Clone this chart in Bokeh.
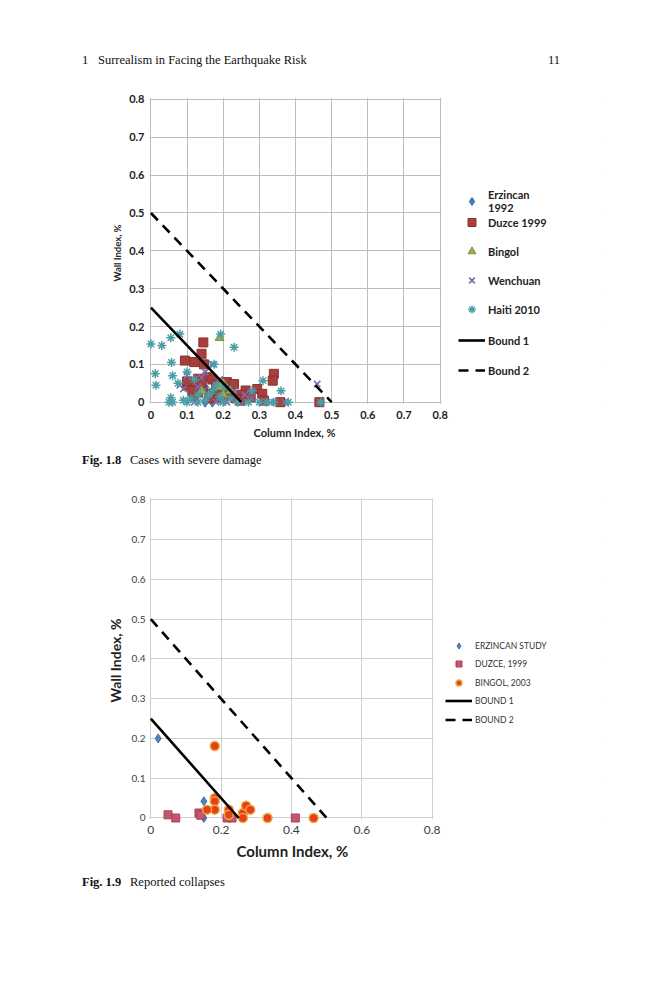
from bokeh.plotting import figure
from bokeh.models import Legend, LegendItem, FixedTicker, Range1d, Div, BoxAnnotation, Title
from bokeh.layouts import column
from bokeh.embed import file_html
from bokeh.resources import INLINE

# ---------------- Fig. 1.8 data (Cases with severe damage) ----------------
erz92_x = [0.15, 0.15, 0.19, 0.21, 0.17]
erz92_y = [0.04, 0.0, 0.01, 0.02, 0.0]

duzce99_x = [0.145, 0.14, 0.094, 0.12, 0.147, 0.11, 0.13, 0.156, 0.21, 0.23, 0.20,
             0.262, 0.294, 0.308, 0.34, 0.337, 0.358, 0.466, 0.248, 0.166, 0.13,
             0.184, 0.276, 0.313, 0.10, 0.12, 0.14, 0.17, 0.19, 0.22, 0.16,
             0.12, 0.25, 0.20, 0.10, 0.115, 0.18, 0.235]
duzce99_y = [0.158, 0.128, 0.11, 0.106, 0.10, 0.048, 0.062, 0.066, 0.053, 0.048, 0.04,
             0.031, 0.035, 0.022, 0.075, 0.057, 0.0, 0.0, 0.004, 0.022, 0.026,
             0.013, 0.013, 0.004, 0.044, 0.04, 0.05, 0.06, 0.03, 0.02, 0.01,
             0.015, 0.02, 0.01, 0.055, 0.03, 0.045, 0.01]

bingol_x = [0.19, 0.20, 0.19, 0.14, 0.20, 0.22]
bingol_y = [0.17, 0.05, 0.04, 0.03, 0.02, 0.03]

wenchuan_x = [0.17, 0.16, 0.14, 0.09, 0.08, 0.10, 0.13, 0.23, 0.26, 0.28, 0.12, 0.18,
              0.21, 0.25, 0.46, 0.37, 0.33, 0.15, 0.19]
wenchuan_y = [0.10, 0.09, 0.065, 0.035, 0.045, 0.07, 0.04, 0.03, 0.02, 0.01, 0.0, 0.0,
              0.0, 0.0, 0.048, 0.0, 0.0, 0.08, 0.06]

haiti_x = [0.0, 0.03, 0.055, 0.08, 0.012, 0.014, 0.057, 0.06, 0.075, 0.10, 0.193, 0.23,
           0.175, 0.31, 0.36, 0.05, 0.06, 0.055, 0.09, 0.10, 0.11, 0.13, 0.15, 0.16,
           0.17, 0.18, 0.20, 0.22, 0.24, 0.27, 0.30, 0.32, 0.34, 0.38, 0.47, 0.12,
           0.13, 0.19, 0.205, 0.28]
haiti_y = [0.154, 0.15, 0.17, 0.18, 0.075, 0.045, 0.105, 0.07, 0.05, 0.08, 0.18, 0.145,
           0.10, 0.057, 0.03, 0.0, 0.0, 0.012, 0.005, 0.0, 0.01, 0.0, 0.005, 0.02,
           0.03, 0.045, 0.0, 0.01, 0.0, 0.0, 0.0, 0.0, 0.0, 0.0, 0.0, 0.06,
           0.02, 0.015, 0.04, 0.03]

# ---------------- Fig. 1.9 data (Reported collapses) ----------------
erz_study_x = [0.021, 0.151, 0.151]
erz_study_y = [0.20, 0.042, 0.0]

duzce_x = [0.049, 0.071, 0.137, 0.142, 0.217, 0.231, 0.411]
duzce_y = [0.008, 0.0, 0.0125, 0.007, 0.0, 0.0, 0.0]

bingol03_x = [0.182, 0.182, 0.182, 0.182, 0.16, 0.222, 0.222, 0.262, 0.262, 0.271,
              0.283, 0.332, 0.463]
bingol03_y = [0.181, 0.05, 0.042, 0.021, 0.021, 0.021, 0.008, 0.0125, 0.0, 0.031,
              0.021, 0.0, 0.0]

# ---------------- Bounds (both figures) ----------------
bound1_x = [0.0, 0.25]
bound1_y = [0.25, 0.0]
bound2_x = [0.0, 0.5]
bound2_y = [0.5, 0.0]

# ---------------- ticks ----------------
f1_ticks = [0, 0.1, 0.2, 0.3, 0.4, 0.5, 0.6, 0.7, 0.8]
f1_labels = ["0", "0.1", "0.2", "0.3", "0.4", "0.5", "0.6", "0.7", "0.8"]
f2_xticks = [0, 0.2, 0.4, 0.6, 0.8]
f2_xlabels = ["0", "0.2", "0.4", "0.6", "0.8"]
f2_yticks = [0, 0.1, 0.2, 0.3, 0.4, 0.5, 0.6, 0.7, 0.8]
f2_ylabels = ["0", "0.1", "0.2", "0.3", "0.4", "0.5", "0.6", "0.7", "0.8"]

FONT = "Lato"
SERIF = "Liberation Serif"
PAGE_W = 650
FRAME_W = 455
FRAME_L = 145


def base_fig(ppu_x, ppu_y, frame_h, top, bottom, y0):
    x0 = -0.015
    x1 = x0 + FRAME_W / ppu_x
    y1 = y0 + frame_h / ppu_y
    p = figure(frame_width=FRAME_W, frame_height=frame_h,
               min_border_left=FRAME_L, min_border_right=PAGE_W - FRAME_L - FRAME_W,
               min_border_top=top, min_border_bottom=bottom,
               x_range=Range1d(x0, x1), y_range=Range1d(y0, y1),
               output_backend="svg", toolbar_location=None)
    p.outline_line_color = None
    p.axis.axis_line_color = None
    p.axis.major_tick_line_color = None
    p.axis.minor_tick_line_color = None
    p.axis.major_tick_out = 0
    p.axis.major_tick_in = 0
    p.background_fill_color = "white"
    p.border_fill_color = "white"
    # keep the grid inside the 0..0.8 plotting area
    ex = 1.2 / ppu_x
    ey = 1.2 / ppu_y
    for kw in (dict(left=0.8 + ex), dict(right=-ex), dict(top=-ey), dict(bottom=0.8 + ey)):
        p.add_layout(BoxAnnotation(fill_color="white", fill_alpha=1.0, line_color=None,
                                   level="underlay", **kw))
    p.margin = 0
    return p


def x_title(p, text, left_x, size, standoff):
    # left-aligned title under the x axis, starting at page x = left_x
    t = Title(text=text, align="left", offset=left_x - FRAME_L,
              text_font=FONT, text_font_size=size, text_font_style="bold",
              text_color="#222222")
    if "standoff" in t.properties():
        t.standoff = standoff
    p.add_layout(t, "below")


def add_item(p, label, rends, x_off, y_off, gw, gh, standoff, size, style, color):
    lg = Legend(items=[LegendItem(label=label, renderers=rends)], location=(x_off, y_off),
                glyph_width=gw, glyph_height=gh, label_height=gh, label_width=10,
                label_standoff=standoff, padding=0, margin=0, spacing=0,
                border_line_color=None, background_fill_alpha=0,
                label_text_font=FONT, label_text_font_size=size,
                label_text_font_style=style, label_text_color=color)
    p.add_layout(lg, "center")


# ================= Figure 1.8 =================
p1 = base_fig(361.5, 378.4, 311, 17, 37, -0.01665)
p1.xaxis.ticker = FixedTicker(ticks=f1_ticks)
p1.yaxis.ticker = FixedTicker(ticks=f1_ticks)
p1.xaxis.major_label_overrides = dict(zip(f1_ticks, f1_labels))
p1.yaxis.major_label_overrides = dict(zip(f1_ticks, f1_labels))
p1.grid.grid_line_color = "#BDBDBD"
p1.grid.grid_line_width = 1
p1.axis.major_label_text_font = FONT
p1.axis.major_label_text_font_size = "11px"
p1.axis.major_label_text_font_style = "bold"
p1.axis.major_label_text_color = "#222222"
p1.xaxis.major_label_standoff = 2
p1.yaxis.major_label_standoff = 1
p1.yaxis.axis_label = "Wall Index, %"
p1.yaxis.axis_label_text_font = FONT
p1.yaxis.axis_label_text_font_size = "9.5px"
p1.yaxis.axis_label_text_font_style = "bold"
p1.yaxis.axis_label_text_color = "#222222"
p1.yaxis.axis_label_standoff = 3
x_title(p1, "Column Index, %", 253, "11px", 5)

r_e = p1.scatter(erz92_x, erz92_y, marker="diamond", size=10, fill_color="#4A7EBB", line_color="#3A6AA5")
r_d = p1.scatter(duzce99_x, duzce99_y, marker="square", size=9, fill_color="#A6403D", line_color="#8C302D")
r_b = p1.scatter(bingol_x, bingol_y, marker="triangle", size=9, fill_color="#9AAE4E", line_color="#7F9140")
r_w = p1.scatter(wenchuan_x, wenchuan_y, marker="x", size=9, line_color="#7D6AAE", line_width=1.6)
r_h = p1.scatter(haiti_x, haiti_y, marker="asterisk", size=9, line_color="#4A9FA6", line_width=1.5)
r_b1 = p1.line(bound1_x, bound1_y, line_color="black", line_width=2.6)
r_b2 = p1.line(bound2_x, bound2_y, line_color="black", line_width=2.6, line_dash="10 7")

L1 = dict(gw=27, gh=20, standoff=3, size="11px", style="bold", color="#222222")
add_item(p1, "Erzincan\n1992", [r_e], 313, 194, **L1)
add_item(p1, "Duzce 1999", [r_d], 313, 176, **L1)
add_item(p1, "Bingol", [r_b], 313, 147, **L1)
add_item(p1, "Wenchuan", [r_w], 313, 118, **L1)
add_item(p1, "Haiti 2010", [r_h], 313, 89, **L1)
add_item(p1, "Bound 1", [r_b1], 313, 58, **L1)
add_item(p1, "Bound 2", [r_b2], 313, 28, **L1)

# ================= Figure 1.9 =================
p2 = base_fig(351.7, 397.75, 326, 17, 43, -0.01383)
p2.xaxis.ticker = FixedTicker(ticks=f2_xticks)
p2.yaxis.ticker = FixedTicker(ticks=f2_yticks)
p2.xaxis.major_label_overrides = dict(zip(f2_xticks, f2_xlabels))
p2.yaxis.major_label_overrides = dict(zip(f2_yticks, f2_ylabels))
p2.grid.grid_line_color = "#D0D0D0"
p2.grid.grid_line_width = 1
p2.axis.major_label_text_font = FONT
p2.xaxis.major_label_text_font_size = "12px"
p2.yaxis.major_label_text_font_size = "10px"
p2.axis.major_label_text_color = "#404040"
p2.xaxis.major_label_standoff = 2
p2.yaxis.major_label_standoff = 0
p2.yaxis.axis_label = "Wall Index, %"
p2.yaxis.axis_label_text_font = FONT
p2.yaxis.axis_label_text_font_size = "14px"
p2.yaxis.axis_label_text_font_style = "bold"
p2.yaxis.axis_label_text_color = "#222222"
p2.yaxis.axis_label_standoff = 5
x_title(p2, "Column Index, %", 236, "15px", 6)

s_e = p2.scatter(erz_study_x, erz_study_y, marker="diamond", size=9, fill_color="#4F81BD", line_color="#4373AD")
s_d = p2.scatter(duzce_x, duzce_y, marker="square", size=8, fill_color="#C4566F", line_color="#A8425A")
s_b = p2.scatter(bingol03_x, bingol03_y, marker="circle", size=9, fill_color="#E3401E", line_color="#F2A83A", line_width=1.5)
s_b1 = p2.line(bound1_x, bound1_y, line_color="black", line_width=2.6)
s_b2 = p2.line(bound2_x, bound2_y, line_color="black", line_width=2.6, line_dash="10 7")

L2 = dict(gw=27, gh=15, standoff=3, size="8.5px", style="normal", color="#333333")
add_item(p2, "ERZINCAN STUDY", [s_e], 300, 170, **L2)
add_item(p2, "DUZCE, 1999", [s_d], 300, 152, **L2)
add_item(p2, "BINGOL, 2003", [s_b], 300, 133, **L2)
add_item(p2, "BOUND 1", [s_b1], 300, 115, **L2)
add_item(p2, "BOUND 2", [s_b2], 300, 96, **L2)

# ================= page texts =================
header = Div(width=PAGE_W, height=80, margin=0, text=(
    f'<div style="position:relative;width:{PAGE_W}px;height:80px;font-family:\'{SERIF}\';'
    'font-size:12.5px;color:#111;">'
    '<span style="position:absolute;left:82px;top:52px;">1</span>'
    '<span style="position:absolute;left:98px;top:52px;">Surrealism in Facing the Earthquake Risk</span>'
    '<span style="position:absolute;left:548px;top:52px;">11</span></div>'))

cap1 = Div(width=PAGE_W, height=35, margin=0, text=(
    f'<div style="position:relative;width:{PAGE_W}px;height:35px;font-family:\'{SERIF}\';'
    'font-size:12.5px;color:#111;">'
    '<span style="position:absolute;left:82px;top:7px;font-weight:bold;">Fig. 1.8</span>'
    '<span style="position:absolute;left:130px;top:7px;">Cases with severe damage</span></div>'))

cap2 = Div(width=PAGE_W, height=40, margin=0, text=(
    f'<div style="position:relative;width:{PAGE_W}px;height:40px;font-family:\'{SERIF}\';'
    'font-size:12.5px;color:#111;">'
    '<span style="position:absolute;left:82px;top:8px;font-weight:bold;">Fig. 1.9</span>'
    '<span style="position:absolute;left:130px;top:8px;">Reported collapses</span></div>'))

page = column(header, p1, cap1, p2, cap2, spacing=0, margin=0)

open("out.html", "w").write(file_html(page, INLINE))
